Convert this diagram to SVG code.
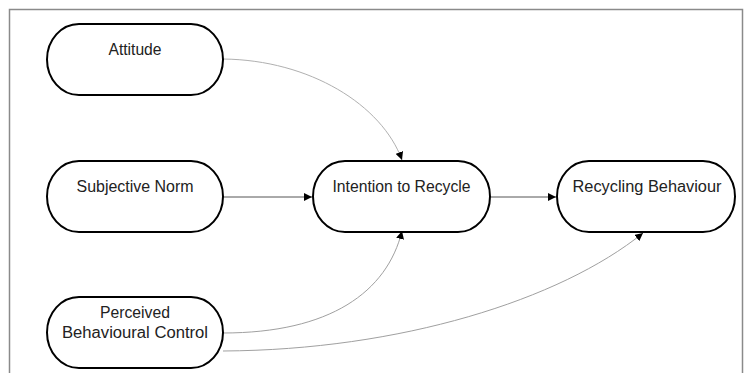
<svg xmlns="http://www.w3.org/2000/svg" width="747" height="373" viewBox="0 0 747 373">
<style>
.node{fill:#fff;stroke:#000;stroke-width:2}
.lbl{font-family:"Liberation Sans",Arial,sans-serif;font-size:16px;fill:#222;text-anchor:middle}
.c{fill:none;stroke-width:1}
</style>
<defs>
<marker id="ah" markerWidth="9" markerHeight="8" refX="8" refY="4" orient="auto" markerUnits="userSpaceOnUse">
<path d="M0,0 L8,4 L0,8 z" fill="#000"/>
</marker>
</defs>
<rect width="747" height="373" fill="#fff"/>
<path d="M9.5,373 V9.5 H742.5 V373" fill="none" stroke="#8a8a8a" stroke-width="1.5"/>
<g id="connectors">
<path class="c" stroke="#b0b0b0" d="M223,59 C310,60 382,105 402,160" marker-end="url(#ah)"/>
<path class="c" stroke="#555" d="M223,197 H312" marker-end="url(#ah)"/>
<path class="c" stroke="#555" d="M490,197 H556" marker-end="url(#ah)"/>
<path class="c" stroke="#a0a0a0" d="M223,333 C330,333 387,292 402,231" marker-end="url(#ah)"/>
<path class="c" stroke="#a0a0a0" d="M223,351 C400,350 560,300 643,233" marker-end="url(#ah)"/>
</g>
<g id="attitude">
<rect class="node" x="47" y="24" width="176" height="71" rx="32" ry="35.5"/>
<text class="lbl" x="135" y="55" textLength="53" lengthAdjust="spacingAndGlyphs">Attitude</text>
</g>
<g id="subjective-norm">
<rect class="node" x="47" y="161" width="176" height="71" rx="32" ry="35.5"/>
<text class="lbl" x="135" y="192" textLength="117" lengthAdjust="spacingAndGlyphs">Subjective Norm</text>
</g>
<g id="intention">
<rect class="node" x="313" y="161" width="177" height="71" rx="32" ry="35.5"/>
<text class="lbl" x="401.5" y="192" textLength="138" lengthAdjust="spacingAndGlyphs">Intention to Recycle</text>
</g>
<g id="recycling-behaviour">
<rect class="node" x="557" y="161" width="178" height="71" rx="32" ry="35.5"/>
<text class="lbl" x="647" y="192" textLength="149" lengthAdjust="spacingAndGlyphs">Recycling Behaviour</text>
</g>
<g id="pbc">
<rect class="node" x="47" y="297" width="176" height="71" rx="32" ry="35.5"/>
<text class="lbl" x="135" y="318" textLength="70" lengthAdjust="spacingAndGlyphs">Perceived</text>
<text class="lbl" x="135" y="338" textLength="146" lengthAdjust="spacingAndGlyphs">Behavioural Control</text>
</g>
</svg>
